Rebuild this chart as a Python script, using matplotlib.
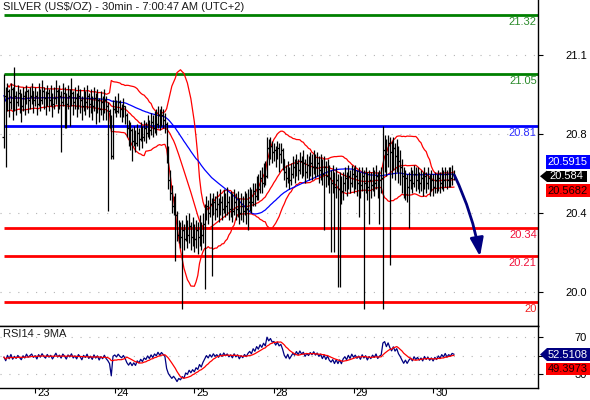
import matplotlib
matplotlib.use('Agg')
import matplotlib.pyplot as plt
import numpy as np
import pandas as pd
from matplotlib.patches import Rectangle, Polygon, FancyArrowPatch

plt.rcParams['font.family'] = ['Liberation Sans', 'DejaVu Sans']

title = "SILVER (US$/OZ) - 30min - 7:00:47 AM (UTC+2)"
rsi_title = "RSI14 - 9MA"

first_open = 20.76
closes = [
    20.95, 20.90, 20.97, 20.92, 20.98, 20.91, 20.95, 20.92, 20.96, 20.93, 20.90, 20.95, 20.92, 20.97, 20.93, 20.95, 20.97, 20.93,
    20.95, 20.91, 20.96, 20.93, 20.97, 20.94, 20.92, 20.96, 20.93, 20.95,
    20.91, 20.94, 20.97, 20.93, 20.95, 20.92, 20.96, 20.94, 20.91, 20.95,
    20.93, 20.96, 20.92, 20.94, 20.91, 20.95, 20.93, 20.90, 20.94, 20.92,
    20.95, 20.91, 20.93, 20.90, 20.94, 20.91, 20.93, 20.89, 20.92, 20.90,
    20.93, 20.90,
    20.88, 20.85, 20.67, 20.89,
    20.91, 20.88, 20.92, 20.89, 20.87, 20.90, 20.86,
    20.80, 20.76, 20.79, 20.74, 20.77, 20.73, 20.78, 20.75, 20.79, 20.76, 20.80, 20.78, 20.82, 20.79, 20.83, 20.80, 20.84, 20.82,
    20.86, 20.83, 20.86, 20.84, 20.82,
    20.66, 20.56, 20.50, 20.44, 20.46, 20.40, 20.31, 20.34,
    20.30, 20.33, 20.29, 20.34, 20.31, 20.35, 20.30, 20.33, 20.29, 20.33, 20.30, 20.35, 20.31, 20.36, 20.40,
    20.44, 20.41, 20.45, 20.42, 20.46, 20.43, 20.45, 20.42, 20.46, 20.43, 20.47, 20.44, 20.46, 20.43, 20.45, 20.42, 20.46,
    20.43, 20.45, 20.41, 20.44, 20.42, 20.45, 20.43, 20.46,
    20.48, 20.46, 20.51, 20.49, 20.54, 20.52, 20.57, 20.55, 20.60, 20.58,
    20.71, 20.68, 20.72, 20.69, 20.70, 20.67, 20.71, 20.68, 20.70, 20.66,
    20.60, 20.57, 20.61, 20.56, 20.59,
    20.62, 20.60, 20.64, 20.61, 20.65, 20.62, 20.64, 20.60, 20.63, 20.61, 20.64, 20.62, 20.65, 20.62, 20.64, 20.61, 20.63, 20.59, 20.62, 20.58, 20.61, 20.57, 20.55,
    20.57, 20.53, 20.56, 20.52, 20.55, 20.51, 20.55,
    20.57, 20.54, 20.58, 20.55, 20.59, 20.56, 20.58, 20.55, 20.57, 20.54, 20.58, 20.55, 20.57, 20.53, 20.56, 20.54, 20.57, 20.55, 20.58, 20.54, 20.56,
    20.57, 20.70,
    20.72, 20.68, 20.73, 20.69, 20.66, 20.71, 20.67, 20.70, 20.65,
    20.62, 20.58, 20.54, 20.57, 20.53, 20.56,
    20.58, 20.55, 20.59, 20.56, 20.58, 20.55, 20.57, 20.54, 20.58, 20.55, 20.57, 20.54, 20.56, 20.53, 20.56, 20.54, 20.57, 20.55, 20.58, 20.56, 20.59, 20.56, 20.58, 20.57, 20.59, 20.584,
]
highs = [
    21.05, 20.99, 21.01, 20.98, 21.01, 20.99, 21.08, 20.97, 21.00, 20.98, 20.96, 20.99, 20.97, 21.00, 20.98, 20.99, 21.01, 20.97,
    20.99, 20.97, 21.01, 20.98, 21.02, 20.99, 20.97, 21.00, 20.98, 21.00,
    20.96, 20.99, 21.02, 20.98, 21.00, 20.97, 21.01, 20.99, 20.96, 21.00,
    20.98, 21.03, 20.97, 20.99, 20.96, 21.00, 20.98, 20.95, 20.99, 20.97,
    21.00, 20.96, 20.98, 20.95, 20.99, 20.96, 20.98, 20.94, 20.97, 20.95,
    20.98, 20.95,
    20.92, 20.89, 20.86, 20.93,
    20.95, 20.93, 20.96, 20.93, 20.91, 20.94, 20.90,
    20.87, 20.84, 20.83, 20.80, 20.81, 20.79, 20.82, 20.80, 20.83, 20.81, 20.84, 20.83, 20.86, 20.84, 20.87, 20.86, 20.88, 20.89,
    20.90, 20.89, 20.90, 20.89, 20.87,
    20.83, 20.72, 20.61, 20.54, 20.49, 20.50, 20.42, 20.38,
    20.37, 20.38, 20.36, 20.40, 20.38, 20.41, 20.37, 20.39, 20.36, 20.38, 20.37, 20.40, 20.37, 20.41, 20.45,
    20.49, 20.47, 20.50, 20.48, 20.50, 20.49, 20.51, 20.48, 20.52, 20.49, 20.52, 20.50, 20.53, 20.49, 20.51, 20.50, 20.52,
    20.50, 20.51, 20.48, 20.50, 20.49, 20.51, 20.50, 20.52,
    20.53, 20.52, 20.55, 20.55, 20.58, 20.59, 20.61, 20.62, 20.64, 20.65,
    20.76, 20.75, 20.76, 20.74, 20.73, 20.72, 20.74, 20.73, 20.73, 20.71,
    20.66, 20.63, 20.65, 20.62, 20.64,
    20.67, 20.66, 20.68, 20.66, 20.69, 20.67, 20.70, 20.66, 20.68, 20.67, 20.69, 20.68, 20.70, 20.68, 20.69, 20.67, 20.68, 20.66, 20.67, 20.65, 20.66, 20.63, 20.61,
    20.63, 20.60, 20.62, 20.59, 20.60, 20.58, 20.60,
    20.62, 20.60, 20.63, 20.61, 20.63, 20.62, 20.63, 20.61, 20.62, 20.60, 20.62, 20.61, 20.62, 20.60, 20.61, 20.60, 20.62, 20.61, 20.63, 20.60, 20.61,
    20.62, 20.81,
    20.77, 20.75, 20.77, 20.76, 20.74, 20.76, 20.73, 20.75, 20.72,
    20.70, 20.66, 20.62, 20.61, 20.59, 20.60,
    20.62, 20.61, 20.63, 20.62, 20.62, 20.60, 20.61, 20.60, 20.62, 20.60, 20.62, 20.59, 20.61, 20.59, 20.60, 20.59, 20.61, 20.60, 20.62, 20.61, 20.62, 20.61, 20.62, 20.62, 20.63, 20.61,
]
lows = [
    20.71, 20.62, 20.88, 20.85, 20.89, 20.84, 20.88, 20.86, 20.90, 20.87, 20.83, 20.88, 20.86, 20.91, 20.87, 20.89, 20.91, 20.87,
    20.90, 20.86, 20.90, 20.88, 20.91, 20.89, 20.86, 20.90, 20.88, 20.90,
    20.85, 20.89, 20.91, 20.87, 20.89, 20.69, 20.90, 20.80, 20.80, 20.89,
    20.81, 20.90, 20.86, 20.89, 20.85, 20.89, 20.87, 20.84, 20.88, 20.86,
    20.89, 20.85, 20.87, 20.84, 20.88, 20.82, 20.87, 20.83, 20.86, 20.84,
    20.87, 20.84,
    20.42, 20.80, 20.66, 20.66,
    20.87, 20.85, 20.87, 20.85, 20.83, 20.85, 20.82,
    20.76, 20.72, 20.70, 20.65, 20.72, 20.69, 20.72, 20.70, 20.74, 20.71, 20.74, 20.73, 20.76, 20.75, 20.77, 20.76, 20.78, 20.77,
    20.80, 20.79, 20.81, 20.80, 20.78,
    20.64, 20.52, 20.47, 20.41, 20.40, 20.19, 20.28, 20.27,
    20.25, 19.97, 20.24, 20.28, 20.25, 20.27, 20.24, 20.26, 20.23, 20.25, 20.22, 20.26, 20.24, 20.27, 20.06,
    20.38, 20.36, 20.39, 20.12, 20.40, 20.38, 20.39, 20.37, 20.40, 20.38, 20.41, 20.39, 20.40, 20.38, 20.39, 20.37, 20.40,
    20.38, 20.39, 20.36, 20.38, 20.37, 20.40, 20.36, 20.33,
    20.42, 20.41, 20.44, 20.44, 20.47, 20.47, 20.50, 20.50, 20.53, 20.54,
    20.57, 20.63, 20.66, 20.64, 20.65, 20.62, 20.66, 20.60, 20.64, 20.61,
    20.56, 20.53, 20.55, 20.52, 20.54,
    20.57, 20.55, 20.58, 20.56, 20.59, 20.57, 20.58, 20.55, 20.57, 20.56, 20.58, 20.56, 20.59, 20.57, 20.58, 20.55, 20.56, 20.54, 20.33, 20.53, 20.54, 20.50, 20.23,
    20.50, 20.23, 20.48, 20.07, 20.07, 20.45, 20.47,
    20.51, 20.49, 20.52, 20.50, 20.53, 20.50, 20.52, 20.49, 20.39, 20.48, 20.51, 19.97, 20.50, 20.47, 20.36, 20.48, 20.51, 20.49, 20.52, 20.48, 20.36,
    20.50, 19.97,
    20.60, 20.58, 20.62, 20.17, 20.57, 20.61, 20.56, 20.60, 20.55,
    20.54, 20.50, 20.48, 20.47, 20.46, 20.34,
    20.52, 20.50, 20.53, 20.51, 20.52, 20.50, 20.51, 20.49, 20.52, 20.50, 20.52, 20.49, 20.51, 20.49, 20.50, 20.50, 20.51, 20.50, 20.52, 20.51, 20.53, 20.52, 20.53, 20.53, 20.54, 20.56,
]

day_labels = ['23', '24', '25', '28', '29', '30']
day_start_bars = [18, 64, 110, 156, 202, 248]

level_values = [21.32, 21.05, 20.81, 20.34, 20.21, 20.0]
level_labels = ['21.32', '21.05', '20.81', '20.34', '20.21', '20']
level_colors = ['#008000', '#008000', '#0000FF', '#FF0000', '#FF0000', '#FF0000']
level_text_colors = ['#2a8a2a', '#2a8a2a', '#3030FF', '#F0103A', '#F0103A', '#F02020']

price_ticks = [21.137, 20.774, 20.410, 20.047]
price_tick_labels = ['21.1', '20.8', '20.4', '20.0']
rsi_ticks = [70, 50, 30]
rsi_tick_labels = ['70', '', '30']

target_bar = 275.1
target_price = 20.21

ma_label, last_label, mid_label = '20.5915', '20.584', '20.5682'
rsi_label, rsi_ma_label = '52.5108', '49.3973'

# ---------------------------------------------------------------
W, H = 590, 400
fig = plt.figure(figsize=(W / 100, H / 100), dpi=100)
fig.patch.set_facecolor('white')


def fx(px):
    return px / W


def fy(py):
    return 1 - py / H


AX_R = 538.3
ax = fig.add_axes([0, fy(326), AX_R / W, 326 / H])
axr = fig.add_axes([0, fy(387.5), AX_R / W, (387.5 - 326) / H])

n = len(closes)
idx = np.arange(n)
c = np.array(closes)
hi = np.array(highs)
lo = np.array(lows)
op = np.concatenate([[first_open], c[:-1]])

xmin, xmax = -2.31, 308.8
for a in (ax, axr):
    a.set_xlim(xmin, xmax)
    a.set_facecolor('white')
    a.spines['left'].set_visible(False)
    for s_ in ('right', 'bottom', 'top'):
        a.spines[s_].set_color('black')
        a.spines[s_].set_linewidth(1.0)
ax.spines['top'].set_visible(False)
ax.set_ylim(19.890, 21.390)
axr.set_ylim(15.7, 82.2)

# grid
for t in price_ticks:
    ax.axhline(t, color='#b4b4b4', lw=0.8, ls=(0, (1, 7)), zorder=0)
for t in rsi_ticks:
    axr.axhline(t, color='#b4b4b4', lw=0.8, ls=(0, (1, 7)), zorder=0)

# levels
for v, col in zip(level_values, level_colors):
    ax.hlines(v, 0, xmax, color=col, lw=2.0, zorder=2)
for v, lbl, col in zip(level_values, level_labels, level_text_colors):
    ax.annotate(lbl, xy=(1, v), xycoords=ax.get_yaxis_transform(), xytext=(-1.5, -2),
                textcoords='offset pixels', ha='right', va='top', color=col, fontsize=8)

# indicators (Bollinger 20/2 and SMA50 of the closes)
s = pd.Series(c)
mid = s.rolling(20, min_periods=3).mean()
sd = s.rolling(20, min_periods=3).std(ddof=0)
ma50 = s.rolling(50, min_periods=1).mean()
ax.plot(idx, mid + 2 * sd, color='#FF0000', lw=0.9, zorder=3)
ax.plot(idx, mid - 2 * sd, color='#FF0000', lw=0.9, zorder=3)
ax.plot(idx, mid, color='#FF0000', lw=0.9, zorder=3)
ax.plot(idx, ma50, color='#0000FF', lw=0.9, zorder=3)

# bars
bar_lo = np.minimum(lo, np.minimum(op, c))
bar_hi = np.maximum(hi, np.maximum(op, c))
ax.vlines(idx, bar_lo, bar_hi, color='black', lw=0.9, zorder=4)
ax.hlines(op, idx - 0.9, idx, color='black', lw=0.9, zorder=4)
ax.hlines(c, idx, idx + 0.9, color='black', lw=0.9, zorder=4)

# arrow
arr = FancyArrowPatch((n - 1 + 0.3, c[-1]), (target_bar, target_price),
                      connectionstyle='arc3,rad=-0.07',
                      arrowstyle='-|>,head_length=1.1,head_width=0.4',
                      mutation_scale=10, color='#000080', lw=2.0,
                      shrinkA=0, shrinkB=0, zorder=6)
ax.add_patch(arr)

# RSI14 (Wilder, seeded with the mean of the first 14 close-to-close changes) and its 9-bar MA
chg = np.diff(c)
gains = np.clip(chg, 0, None)
losses = np.clip(-chg, 0, None)
ag, al = gains[:14].mean(), losses[:14].mean()
rsi_vals = [100 - 100 / (1 + ag / al)]
for g, l in zip(gains, losses):
    ag = (ag * 13 + g) / 14
    al = (al * 13 + l) / 14
    rsi_vals.append(100 - 100 / (1 + ag / al))
rsi = pd.Series(rsi_vals)
rsi_ma = rsi.rolling(9, min_periods=1).mean()
axr.plot(idx, rsi, color='#000080', lw=0.9, zorder=3)
axr.plot(idx, rsi_ma, color='#FF0000', lw=0.9, zorder=3)

# y ticks (right)
for a, tks, lbls in ((ax, price_ticks, price_tick_labels), (axr, rsi_ticks, rsi_tick_labels)):
    a.yaxis.tick_right()
    a.set_yticks(tks)
    a.set_yticklabels(lbls)
    a.tick_params(axis='y', direction='out', length=3.6, width=0.8, pad=31.5,
                  labelsize=8, colors='black')
    for t in a.get_yticklabels():
        t.set_horizontalalignment('right')

ax.tick_params(axis='x', bottom=False, labelbottom=False)
axr.set_xticks(day_start_bars)
axr.tick_params(axis='x', direction='out', length=3.6, width=0.8, labelbottom=False)
for b, lbl in zip(day_start_bars, day_labels):
    axr.annotate(lbl, xy=(b, 0), xycoords=('data', 'axes fraction'), xytext=(2, -1),
                 textcoords='offset pixels', ha='left', va='top', fontsize=8, color='black',
                 annotation_clip=False)

# titles
fig.text(fx(3), fy(7.5), title, ha='left', va='center', fontsize=8, color='#1a1a1a')
fig.text(fx(3), fy(334), rsi_title, ha='left', va='center', fontsize=8, color='#1a1a1a')


# value boxes
def box(x0, y0, x1, y1, face, text, tcolor, arrow=False):
    fig.add_artist(Rectangle((fx(x0), fy(y1)), (x1 - x0) / W, (y1 - y0) / H,
                             transform=fig.transFigure, facecolor=face, edgecolor='none', zorder=10))
    if arrow:
        ym = (y0 + y1) / 2
        fig.add_artist(Polygon([(fx(540), fy(ym)), (fx(x0 + 0.5), fy(y0)), (fx(x0 + 0.5), fy(y1))],
                               closed=True, transform=fig.transFigure, facecolor=face,
                               edgecolor='none', zorder=10))
    fig.text(fx((x0 + x1) / 2), fy((y0 + y1) / 2), text, ha='center', va='center',
             fontsize=8, color=tcolor, zorder=11)


box(545.5, 155, 589.5, 169, '#0000FF', ma_label, 'white')
box(546.5, 170.5, 587, 182, '#000000', last_label, 'white', arrow=True)
box(545.5, 184.5, 589.5, 197, '#FF0000', mid_label, '#1a0000')
box(546.5, 348, 589.5, 361, '#000080', rsi_label, 'white', arrow=True)
box(545.5, 362.5, 589.5, 374.5, '#FF0000', rsi_ma_label, '#1a0000')

fig.savefig('out.png', dpi=100, facecolor='white')
